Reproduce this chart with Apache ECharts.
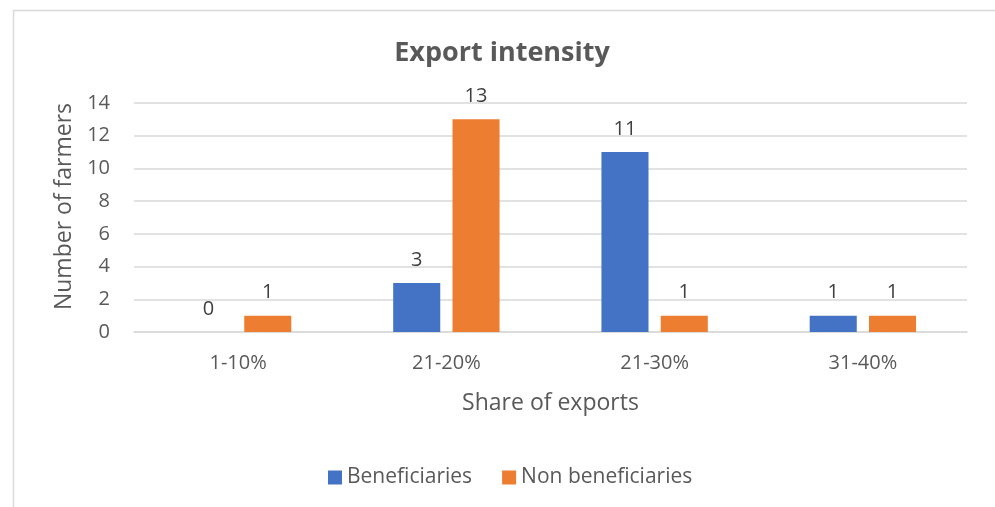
<!DOCTYPE html>
<html>
<head>
<meta charset="utf-8">
<script src="https://cdn.jsdelivr.net/npm/echarts@6/dist/echarts.min.js"></script>
<style>
html,body{margin:0;padding:0;background:#fff;}
#c{width:995px;height:507px;}
</style>
</head>
<body>
<div id="c"></div>
<script>
var categories = ['1-10%', '21-20%', '21-30%', '31-40%'];
var beneficiaries = [0, 3, 11, 1];
var nonBeneficiaries = [1, 13, 1, 1];
var seriesNames = ['Beneficiaries', 'Non beneficiaries'];

var FONT = '"Open Sans", "Noto Sans", sans-serif';
var chart = echarts.init(document.getElementById('c'), null, {renderer: 'canvas'});
var labelStyle = {show: true, position: 'top', distance: 13, color: '#404040', fontSize: 20, fontFamily: FONT};
chart.setOption({
  animation: false,
  backgroundColor: '#fff',
  graphic: [{
    type: 'rect', silent: true,
    shape: {x: 13.5, y: 10.5, width: 1000, height: 600},
    style: {fill: 'none', stroke: '#d9d9d9', lineWidth: 1.5}
  }],
  title: {
    text: 'Export intensity',
    left: 497, top: 35, textAlign: 'center',
    textStyle: {color: '#595959', fontSize: 27, fontWeight: 'bold', fontFamily: FONT}
  },
  legend: {
    data: seriesNames,
    top: 462,
    left: 323,
    itemWidth: 14, itemHeight: 14, itemGap: 30,
    icon: 'rect',
    textStyle: {color: '#595959', fontSize: 21, fontFamily: FONT}
  },
  grid: {left: 134, right: 28, top: 103, bottom: 175, containLabel: false},
  xAxis: {
    type: 'category',
    data: categories,
    name: 'Share of exports',
    nameLocation: 'middle',
    nameGap: 60,
    nameTextStyle: {color: '#595959', fontSize: 23, fontFamily: FONT},
    axisLine: {show: true, lineStyle: {color: '#d9d9d9', width: 1.5}},
    axisTick: {show: false},
    axisLabel: {color: '#595959', fontSize: 20, fontFamily: FONT, margin: 21}
  },
  yAxis: {
    type: 'value',
    min: 0, max: 14, interval: 2,
    name: 'Number of farmers',
    nameLocation: 'middle',
    nameGap: 54,
    nameRotate: 90,
    nameTextStyle: {color: '#595959', fontSize: 23, fontFamily: FONT, padding: [0, 0, 0, 22]},
    axisLine: {show: false},
    axisTick: {show: false},
    splitLine: {lineStyle: {color: '#d9d9d9', width: 1.5}},
    axisLabel: {color: '#595959', fontSize: 20, fontFamily: FONT, margin: 24}
  },
  series: [
    {name: seriesNames[0], type: 'bar', data: beneficiaries, barWidth: '22.6%', barGap: '26%',
     itemStyle: {color: '#4472c4'}, label: labelStyle},
    {name: seriesNames[1], type: 'bar', data: nonBeneficiaries, barWidth: '22.6%', barGap: '26%',
     itemStyle: {color: '#ed7d31'}, label: labelStyle}
  ]
});
</script>
</body>
</html>
